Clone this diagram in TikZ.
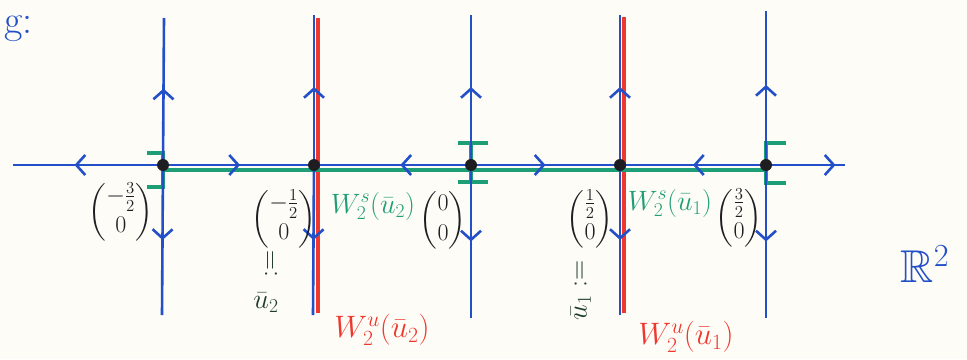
\RequirePackage{fix-cm}
\documentclass[tikz,border=0pt]{standalone}
\usepackage{amsmath,amssymb}
\usetikzlibrary{arrows.meta,decorations.markings}
\definecolor{paper}{RGB}{253,252,246}
\definecolor{bl}{RGB}{35,80,200}
\definecolor{rd}{RGB}{240,55,45}
\definecolor{gr}{RGB}{30,158,118}
\definecolor{ink}{RGB}{30,30,34}
\definecolor{dgr}{RGB}{30,60,42}
\tikzset{
  ax/.style={bl, line width=2.6pt},
  redline/.style={rd, line width=3.5pt},
  grline/.style={gr, line width=4.5pt},
  grtick/.style={gr, line width=3.5pt},
  midarr/.style={postaction={decorate}, decoration={markings,
     mark=at position #1 with {\arrow{Straight Barb[length=9pt,width=20pt,line width=2.6pt]}}}},
  dot/.style={circle, fill=ink, inner sep=0pt, minimum size=12pt},
  vec/.style={ink, inner sep=0pt, font=\fontsize{24}{28}\selectfont},
  lab/.style={inner sep=0pt, font=\fontsize{28}{32}\selectfont},
  labu/.style={inner sep=0pt, font=\fontsize{31}{36}\selectfont},
}
\begin{document}
\begin{tikzpicture}[x=1pt,y=-1pt]
\fill[paper] (0,0) rectangle (967,359);
\useasboundingbox (0,0) rectangle (967,359);

% points on the axis
\coordinate (p1) at (163,165);
\coordinate (p2) at (314,165);
\coordinate (p3) at (471,165);
\coordinate (p4) at (620,165);
\coordinate (p5) at (766,165);
\coordinate (L) at (13,165);
\coordinate (R) at (845,165);
% vertical ends
\coordinate (t1) at (164,18);  \coordinate (b1) at (162,315);
\coordinate (t2) at (314,15);  \coordinate (b2) at (313,315);
\coordinate (t3) at (471,15);  \coordinate (b3) at (471,318);
\coordinate (t4) at (620,15);  \coordinate (b4) at (620,315);
\coordinate (t5) at (766,11);  \coordinate (b5) at (766,318);
% red unstable manifolds
\coordinate (rt2) at (318,18); \coordinate (rb2) at (318,313);
\coordinate (rt4) at (624,17); \coordinate (rb4) at (624,313);
% green stable manifold
\coordinate (g1) at (163,170);
\coordinate (g2) at (766,170);

\draw[redline] (rt2) -- (rb2);
\draw[redline] (rt4) -- (rb4);
\draw[grline] (g1) -- (g2);

% green brackets
\draw[grtick] ([shift={(-16,-12)}]p1) -- ([shift={(0,-12)}]p1) -- ([shift={(0,22)}]p1) -- ([shift={(-16,22)}]p1);
\draw[grtick] ([shift={(-13,-22)}]p3) -- ([shift={(17,-22)}]p3);
\draw[grtick] ([shift={(-13,17)}]p3) -- ([shift={(17,17)}]p3);
\draw[grtick] ([shift={(0,-22)}]p3) -- ([shift={(0,17)}]p3);
\draw[grtick] ([shift={(20,-22)}]p5) -- ([shift={(0,-22)}]p5) -- ([shift={(0,18)}]p5) -- ([shift={(20,18)}]p5);

% horizontal axis
\draw[ax, midarr=0.59] (p1) -- (L);
\draw[ax, midarr=0.51] (p1) -- (p2);
\draw[ax, midarr=0.45] (p3) -- (p2);
\draw[ax, midarr=0.5] (p3) -- (p4);
\draw[ax, midarr=0.5] (p5) -- (p4);
\draw[ax, midarr=0.88] (p5) -- (R);

% vertical lines
\foreach \i in {1,...,5}{
  \draw[ax, midarr=0.52] (p\i) -- (t\i);
  \draw[ax, midarr=0.5] (p\i) -- (b\i);
}

% equilibria
\foreach \i in {1,...,5}{ \node[dot] (d\i) at (p\i) {}; }

% labels
\node[vec] (v1) at (121,212) {$\begin{pmatrix}-\tfrac{3}{2}\\[2pt] 0\end{pmatrix}$};
\node[vec] (v2) at (284,219) {$\begin{pmatrix}-\tfrac{1}{2}\\[2pt] 0\end{pmatrix}$};
\node[vec] (v3) at (443,220) {$\begin{pmatrix}0\\[2pt] 0\end{pmatrix}$};
\node[vec] (v4) at (590,219) {$\begin{pmatrix}\tfrac{1}{2}\\[2pt] 0\end{pmatrix}$};
\node[vec] (v5) at (739,218) {$\begin{pmatrix}\tfrac{3}{2}\\[2pt] 0\end{pmatrix}$};

\node[lab, gr] (ws2) at (373,206) {$W^s_2(\bar u_2)$};
\node[lab, gr] (ws1) at (670,203) {$W^s_2(\bar u_1)$};
\node[labu, rd] (wu2) at (382,330) {$W^u_2(\bar u_2)$};
\node[labu, rd] (wu1) at (686,337) {$W^u_2(\bar u_1)$};

\node[lab, dgr] (u2) at (266,303) {$\bar u_2$};
\node[lab, dgr, rotate=90] (u2def) at (271,264) {$:=$};
\node[lab, dgr, rotate=90] (u1) at (581,290) {$\bar u_1 :=$};

\node[bl, font=\fontsize{46}{52}\selectfont] (R2) at (925,264) {$\mathbb{R}^2$};
\node[bl, font=\fontsize{40}{46}\selectfont, anchor=base west, inner sep=0pt] (bsp) at (4,33) {g:};
\end{tikzpicture}
\end{document}
